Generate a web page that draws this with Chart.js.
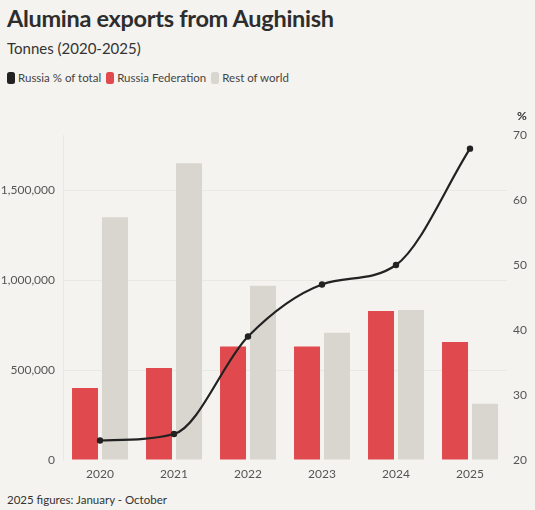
<!DOCTYPE html>
<html>
<head>
<meta charset="utf-8">
<script src="https://cdn.jsdelivr.net/npm/chart.js@4"></script>
<style>
  html, body { margin: 0; padding: 0; background: #f4f3ef; }
  body { width: 535px; height: 510px; position: relative; overflow: hidden; font-family: Lato, "Open Sans", sans-serif; color: #333; }
  #title { position: absolute; left: 7px; top: 4px; font-size: 23.5px; font-weight: 700; color: #2d2d2d; letter-spacing: -0.3px; }
  #subtitle { position: absolute; left: 7px; top: 39px; font-size: 15px; color: #333; }
  #legend { position: absolute; left: 7px; top: 71px; font-size: 11.5px; color: #444; display: flex; align-items: center; }
  #legend .item { display: flex; align-items: center; margin-right: 5px; }
  #legend .sw { width: 8px; height: 12px; border-radius: 2.5px; margin-right: 3px; }
  #foot { position: absolute; left: 7px; top: 493px; font-size: 11.5px; color: #333; }
  #wrap { position: absolute; left: 0; top: 100px; width: 535px; height: 390px; }
</style>
</head>
<body>
<div id="title">Alumina exports from Aughinish</div>
<div id="subtitle">Tonnes (2020-2025)</div>
<div id="legend"></div>
<div id="wrap"><canvas id="c"></canvas></div>
<div id="foot">2025 figures: January - October</div>
<script>
const years = ["2020", "2021", "2022", "2023", "2024", "2025"];
const russiaFederation = [400000, 511000, 631000, 631000, 828000, 656000];
const restOfWorld = [1348000, 1648000, 968000, 707000, 833000, 313000];
const russiaShare = [23.0, 24.0, 39.0, 47.0, 50.0, 67.9];
const leftTicks = [0, 500000, 1000000, 1500000];
const rightTicks = [20, 30, 40, 50, 60, 70];
const seriesNames = ["Russia % of total", "Russia Federation", "Rest of world"];

const colBlack = "#222222", colRed = "#e04a4f", colGray = "#d8d6cf";
const tickFont = { family: "Lato, 'Open Sans', sans-serif", size: 12 };

// HTML legend
const leg = document.getElementById("legend");
[[seriesNames[0], colBlack], [seriesNames[1], colRed], [seriesNames[2], colGray]].forEach(([n, c]) => {
  const it = document.createElement("div"); it.className = "item";
  const sw = document.createElement("div"); sw.className = "sw"; sw.style.background = c;
  const t = document.createElement("span"); t.textContent = n;
  it.appendChild(sw); it.appendChild(t); leg.appendChild(it);
});

const pctLabel = {
  id: "pctLabel",
  afterDraw(chart) {
    const s = chart.scales.y1, ctx = chart.ctx;
    ctx.save();
    ctx.font = "bold 12px Lato, 'Open Sans', sans-serif";
    ctx.fillStyle = "#333";
    ctx.textAlign = "left"; ctx.textBaseline = "middle";
    ctx.fillText("%", s.left + 10, s.top - 19);
    ctx.restore();
  }
};

new Chart(document.getElementById("c"), {
  data: {
    labels: years,
    datasets: [
      { type: "line", label: seriesNames[0], data: russiaShare, yAxisID: "y1",
        borderColor: colBlack, backgroundColor: colBlack, borderWidth: 2.2,
        pointRadius: 3.2, pointBackgroundColor: colBlack, pointBorderWidth: 0,
        cubicInterpolationMode: "monotone", order: 0 },
      { type: "bar", label: seriesNames[1], data: russiaFederation, yAxisID: "y",
        backgroundColor: colRed, categoryPercentage: 0.81, barPercentage: 0.867, order: 1 },
      { type: "bar", label: seriesNames[2], data: restOfWorld, yAxisID: "y",
        backgroundColor: colGray, categoryPercentage: 0.81, barPercentage: 0.867, order: 2 }
    ]
  },
  options: {
    responsive: true, maintainAspectRatio: false, animation: false,
    layout: { padding: { top: 35, left: 0, right: 0, bottom: 0 } },
    plugins: { legend: { display: false }, tooltip: { enabled: false } },
    scales: {
      x: {
        grid: { display: false, drawTicks: false },
        border: { display: false },
        ticks: { color: "#555", font: tickFont, padding: 7 },
        afterFit(s) { s.height = 30; }
      },
      y: {
        position: "left", min: 0, max: 1805556,
        afterBuildTicks(s) { s.ticks = leftTicks.map(v => ({ value: v })); },
        grid: { color: c => c.tick && c.tick.value === 0 ? "rgba(0,0,0,0)" : "#e9e8e2", drawTicks: false, lineWidth: 1 },
        border: { display: true, color: "#e9e8e2" },
        ticks: { color: "#555", font: tickFont, padding: 8,
          callback: v => v.toLocaleString("en-US") },
        afterFit(s) { s.width = 63; }
      },
      y1: {
        position: "right", min: 20, max: 70,
        afterBuildTicks(s) { s.ticks = rightTicks.map(v => ({ value: v })); },
        grid: { display: false, drawTicks: false },
        border: { display: false },
        ticks: { color: "#555", font: tickFont, padding: 6 },
        afterFit(s) { s.width = 28; }
      }
    }
  },
  plugins: [pctLabel]
});
</script>
</body>
</html>
